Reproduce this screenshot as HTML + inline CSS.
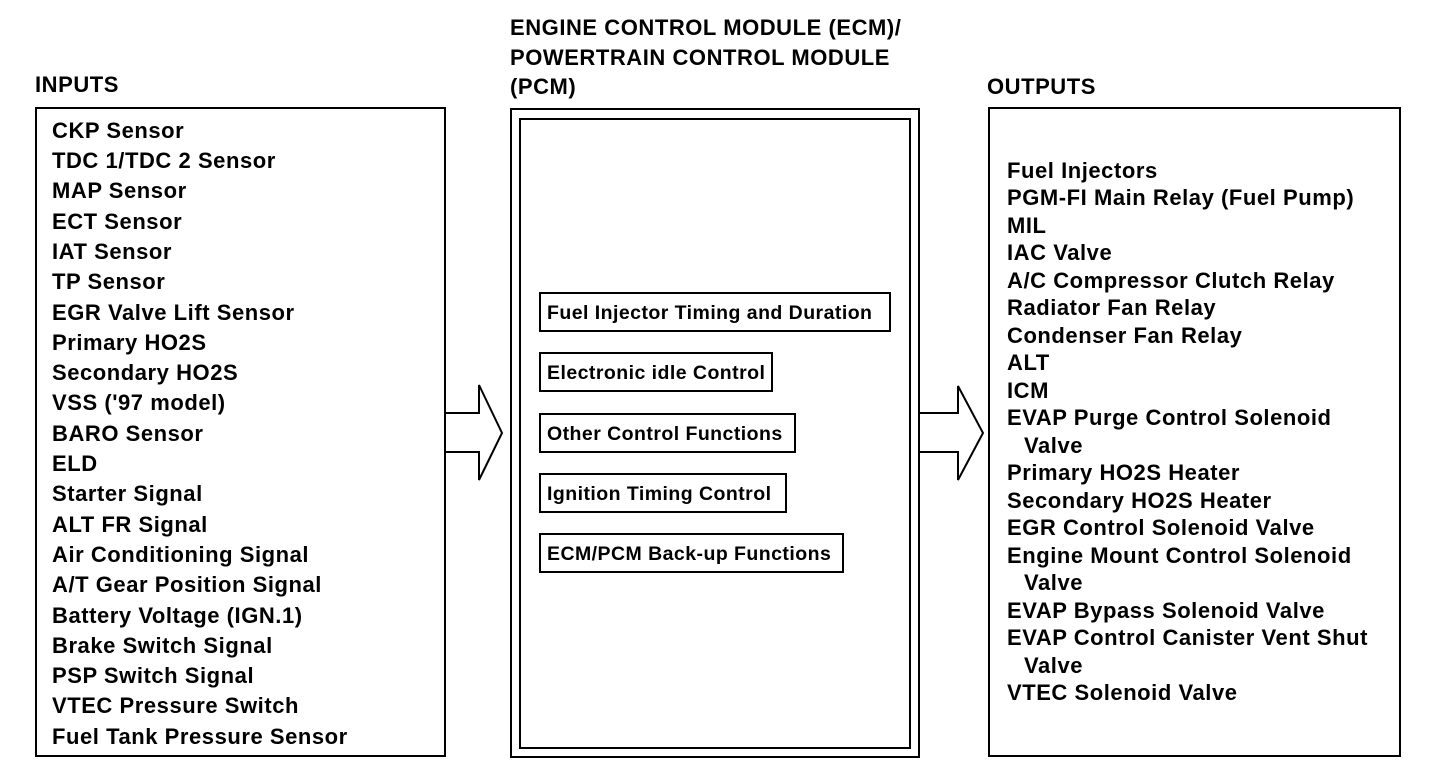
<!DOCTYPE html>
<html><head><meta charset="utf-8"><style>
html,body{margin:0;padding:0;background:#fff;}
svg{display:block;}
text{font-family:"Liberation Sans",Arial,sans-serif;font-weight:bold;font-size:22px;letter-spacing:0.55px;fill:#000;}
text.s{font-size:19.5px;letter-spacing:0.45px;}
</style></head><body>
<svg width="1440" height="780" viewBox="0 0 1440 780" xmlns="http://www.w3.org/2000/svg">
<g fill="none" stroke="#000" stroke-width="2">
<rect x="36" y="108" width="409" height="648"/>
<rect x="511" y="109" width="408" height="648"/>
<rect x="520" y="119" width="390" height="629"/>
<rect x="989" y="108" width="411" height="648"/>
<rect x="540" y="293" width="350" height="38"/>
<rect x="540" y="353" width="232" height="38"/>
<rect x="540" y="414" width="255" height="38"/>
<rect x="540" y="474" width="246" height="38"/>
<rect x="540" y="534" width="303" height="38"/>
<polyline points="445,413 479,413 479,385 502,433 479,480 479,452 445,452"/>
<polyline points="919,413 958,413 958,386 983,433 958,480 958,452 919,452"/>
</g>
<text x="35" y="92">INPUTS</text>
<text x="510" y="35">ENGINE CONTROL MODULE (ECM)/</text>
<text x="510" y="65">POWERTRAIN CONTROL MODULE</text>
<text x="510" y="94">(PCM)</text>
<text x="987" y="94">OUTPUTS</text>
<g>
<text x="52" y="138">CKP Sensor</text>
<text x="52" y="168">TDC 1/TDC 2 Sensor</text>
<text x="52" y="198">MAP Sensor</text>
<text x="52" y="229">ECT Sensor</text>
<text x="52" y="259">IAT Sensor</text>
<text x="52" y="289">TP Sensor</text>
<text x="52" y="320">EGR Valve Lift Sensor</text>
<text x="52" y="350">Primary HO2S</text>
<text x="52" y="380">Secondary HO2S</text>
<text x="52" y="410">VSS ('97 model)</text>
<text x="52" y="441">BARO Sensor</text>
<text x="52" y="471">ELD</text>
<text x="52" y="501">Starter Signal</text>
<text x="52" y="532">ALT FR Signal</text>
<text x="52" y="562">Air Conditioning Signal</text>
<text x="52" y="592">A/T Gear Position Signal</text>
<text x="52" y="623">Battery Voltage (IGN.1)</text>
<text x="52" y="653">Brake Switch Signal</text>
<text x="52" y="683">PSP Switch Signal</text>
<text x="52" y="713">VTEC Pressure Switch</text>
<text x="52" y="744">Fuel Tank Pressure Sensor</text>
</g>
<text class="s" x="547" y="319">Fuel Injector Timing and Duration</text>
<text class="s" x="547" y="379">Electronic idle Control</text>
<text class="s" x="547" y="440">Other Control Functions</text>
<text class="s" x="547" y="500">Ignition Timing Control</text>
<text class="s" x="547" y="560">ECM/PCM Back-up Functions</text>
<g>
<text x="1007" y="178">Fuel Injectors</text>
<text x="1007" y="205">PGM-FI Main Relay (Fuel Pump)</text>
<text x="1007" y="233">MIL</text>
<text x="1007" y="260">IAC Valve</text>
<text x="1007" y="288">A/C Compressor Clutch Relay</text>
<text x="1007" y="315">Radiator Fan Relay</text>
<text x="1007" y="343">Condenser Fan Relay</text>
<text x="1007" y="370">ALT</text>
<text x="1007" y="398">ICM</text>
<text x="1007" y="425">EVAP Purge Control Solenoid</text>
<text x="1024" y="453">Valve</text>
<text x="1007" y="480">Primary HO2S Heater</text>
<text x="1007" y="508">Secondary HO2S Heater</text>
<text x="1007" y="535">EGR Control Solenoid Valve</text>
<text x="1007" y="563">Engine Mount Control Solenoid</text>
<text x="1024" y="590">Valve</text>
<text x="1007" y="618">EVAP Bypass Solenoid Valve</text>
<text x="1007" y="645">EVAP Control Canister Vent Shut</text>
<text x="1024" y="673">Valve</text>
<text x="1007" y="700">VTEC Solenoid Valve</text>
</g>
</svg>
</body></html>
